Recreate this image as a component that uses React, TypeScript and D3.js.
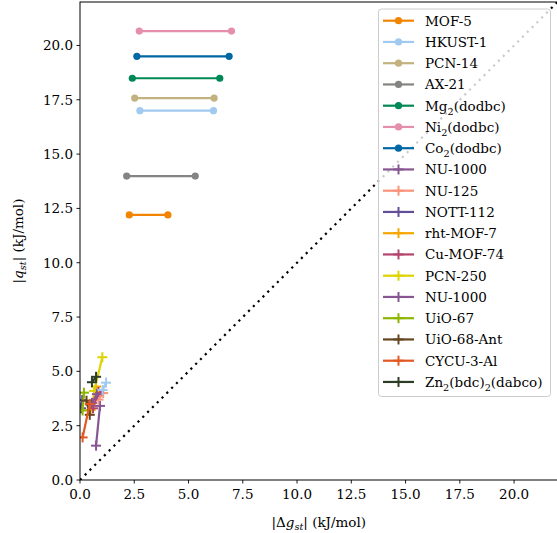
import React from "react";
import * as d3 from "d3";

// Circle-marker series (horizontal ranges)
const circleNames = ["MOF-5", "HKUST-1", "PCN-14", "AX-21", "Mg2(dodbc)", "Ni2(dodbc)", "Co2(dodbc)"];
const circleColors = ["#F38400", "#A1CAF1", "#C2B280", "#848482", "#008856", "#E68FAC", "#0067A5"];
const circleQ = [12.2, 17.0, 17.58, 13.99, 18.49, 20.66, 19.5];
const circleGmin = [2.27, 2.76, 2.52, 2.15, 2.41, 2.73, 2.62];
const circleGmax = [4.05, 6.15, 6.18, 5.31, 6.44, 6.98, 6.87];

// Plus-marker series (two-point segments)
const crossNames = ["NU-1000", "NU-125", "NOTT-112", "rht-MOF-7", "Cu-MOF-74", "PCN-250", "NU-1000", "UiO-67", "UiO-68-Ant", "CYCU-3-Al", "Zn2(bdc)2(dabco)", ""];
const crossColors = ["#875692", "#F99379", "#604E97", "#F6A600", "#B3446C", "#DCD300", "#875692", "#8DB600", "#654522", "#E25822", "#2B3D26", "#A1CAF1"];
const crossG1 = [0.74, 0.85, 0.05, 0.49, 0.6, 0.65, 0.55, 0.12, 0.45, 0.12, 0.55, 1.04];
const crossQ1 = [1.58, 3.7, 3.3, 3.22, 3.3, 4.1, 3.55, 3.2, 3.0, 1.96, 4.5, 4.14];
const crossG2 = [0.92, 1.07, 0.1, 0.74, 0.85, 1.03, 0.78, 0.18, 0.3, 0.45, 0.74, 1.2];
const crossQ2 = [3.41, 4.0, 3.68, 4.3, 4.05, 5.65, 3.95, 4.02, 3.65, 3.5, 4.75, 4.48];

const xTicks = [0, 2.5, 5, 7.5, 10, 12.5, 15, 17.5, 20];
const yTicks = [0, 2.5, 5, 7.5, 10, 12.5, 15, 17.5, 20];

const W = 557, H = 533;
const L = 80, T = 2, R = 557.5, B = 480;
const FONT = "'DejaVu Serif', serif";
const ts = { fontFamily: FONT };
const FS = 13.5;

function Label({ text }: { text: string }) {
  const parts: { t: string; sub: boolean }[] = [];
  const re = /([A-Za-z\)])(\d)(?=\()/g;
  let last = 0;
  let m: RegExpExecArray | null;
  while ((m = re.exec(text)) !== null) {
    const idx = m.index + 1;
    parts.push({ t: text.slice(last, idx), sub: false });
    parts.push({ t: m[2], sub: true });
    last = idx + 1;
  }
  parts.push({ t: text.slice(last), sub: false });
  return (
    <>
      {parts.map((p, i) =>
        p.sub ? (
          <tspan key={i} fontSize="0.72em" dy="4">{p.t}</tspan>
        ) : (
          <tspan key={i} dy={i > 0 && parts[i - 1].sub ? -4 : 0}>{p.t}</tspan>
        )
      )}
    </>
  );
}

export default function App() {
  const x = d3.scaleLinear().domain([0, 22]).range([L, R]);
  const y = d3.scaleLinear().domain([0, 22]).range([B, T]);
  const line = d3.line<[number, number]>().x((d) => x(d[0])).y((d) => y(d[1]));

  const plus = (cx: number, cy: number, color: string, key: string, s = 5) => (
    <g key={key} stroke={color} strokeWidth={2}>
      <line x1={cx - s} x2={cx + s} y1={cy} y2={cy} />
      <line x1={cx} x2={cx} y1={cy - s} y2={cy + s} />
    </g>
  );

  const legendItems = [
    ...circleNames.map((n, i) => ({ name: n, color: circleColors[i], type: "circle" })),
    ...crossNames.map((n, i) => ({ name: n, color: crossColors[i], type: "plus" })).filter((d) => d.name !== ""),
  ];
  const lx = 378.5, ly = 9, lw = 172, step = 21.25;
  const lh = legendItems.length * step + 5;

  return (
    <svg width={W} height={H} style={{ position: "absolute", left: 0, top: 0, background: "white" }}>
      <defs>
        <clipPath id="plotclip">
          <rect x={L} y={T} width={R - L} height={B - T} />
        </clipPath>
      </defs>
      <rect x={0} y={0} width={W} height={H} fill="white" />
      <g clipPath="url(#plotclip)">
        <path d={line([[0, 0], [22, 22]]) || ""} stroke="black" strokeWidth={2.2} strokeDasharray="2.2,4.6" fill="none" />
        {circleNames.map((n, i) => (
          <g key={"c" + i}>
            <path d={line([[circleGmin[i], circleQ[i]], [circleGmax[i], circleQ[i]]]) || ""} stroke={circleColors[i]} strokeWidth={2.2} fill="none" />
            <circle cx={x(circleGmin[i])} cy={y(circleQ[i])} r={3.6} fill={circleColors[i]} />
            <circle cx={x(circleGmax[i])} cy={y(circleQ[i])} r={3.6} fill={circleColors[i]} />
          </g>
        ))}
        {crossNames.map((n, i) => (
          <g key={"p" + i}>
            <path d={line([[crossG1[i], crossQ1[i]], [crossG2[i], crossQ2[i]]]) || ""} stroke={crossColors[i]} strokeWidth={2.2} fill="none" />
            {plus(x(crossG1[i]), y(crossQ1[i]), crossColors[i], "a")}
            {plus(x(crossG2[i]), y(crossQ2[i]), crossColors[i], "b")}
          </g>
        ))}
      </g>
      <rect x={L} y={T} width={R - L} height={B - T} fill="none" stroke="black" strokeWidth={1} />
      {xTicks.map((t) => (
        <g key={"xt" + t}>
          <line x1={x(t)} x2={x(t)} y1={B} y2={B + 3.5} stroke="black" strokeWidth={0.9} />
          <text x={x(t)} y={B + 19} textAnchor="middle" fontSize={FS} style={ts}>{t.toFixed(1)}</text>
        </g>
      ))}
      {yTicks.map((t) => (
        <g key={"yt" + t}>
          <line x1={L - 3.5} x2={L} y1={y(t)} y2={y(t)} stroke="black" strokeWidth={0.9} />
          <text x={L - 7} y={y(t) + 5} textAnchor="end" fontSize={FS} style={ts}>{t.toFixed(1)}</text>
        </g>
      ))}
      <text x={(L + R) / 2} y={527} textAnchor="middle" fontSize={FS} style={ts}>
        |Δ<tspan fontStyle="italic">g</tspan><tspan fontStyle="italic" fontSize="0.72em" dy="3">st</tspan><tspan dy="-3">| (kJ/mol)</tspan>
      </text>
      <text transform={`translate(23,${(T + B) / 2}) rotate(-90)`} textAnchor="middle" fontSize={FS} style={ts}>
        |<tspan fontStyle="italic">q</tspan><tspan fontStyle="italic" fontSize="0.72em" dy="3">st</tspan><tspan dy="-3">| (kJ/mol)</tspan>
      </text>
      <rect x={lx} y={ly} width={lw} height={lh} rx={3} fill="white" fillOpacity={0.8} stroke="#cccccc" strokeWidth={1} />
      {legendItems.map((d, i) => {
        const cy = ly + 11.7 + i * step;
        return (
          <g key={"l" + i}>
            <line x1={383} x2={414} y1={cy} y2={cy} stroke={d.color} strokeWidth={2.2} />
            {d.type === "circle" ? (
              <circle cx={398.5} cy={cy} r={3.6} fill={d.color} />
            ) : (
              plus(398.5, cy, d.color, "lp" + i)
            )}
            <text x={425} y={cy + 5} fontSize={FS} style={ts}>
              <Label text={d.name} />
            </text>
          </g>
        );
      })}
    </svg>
  );
}
